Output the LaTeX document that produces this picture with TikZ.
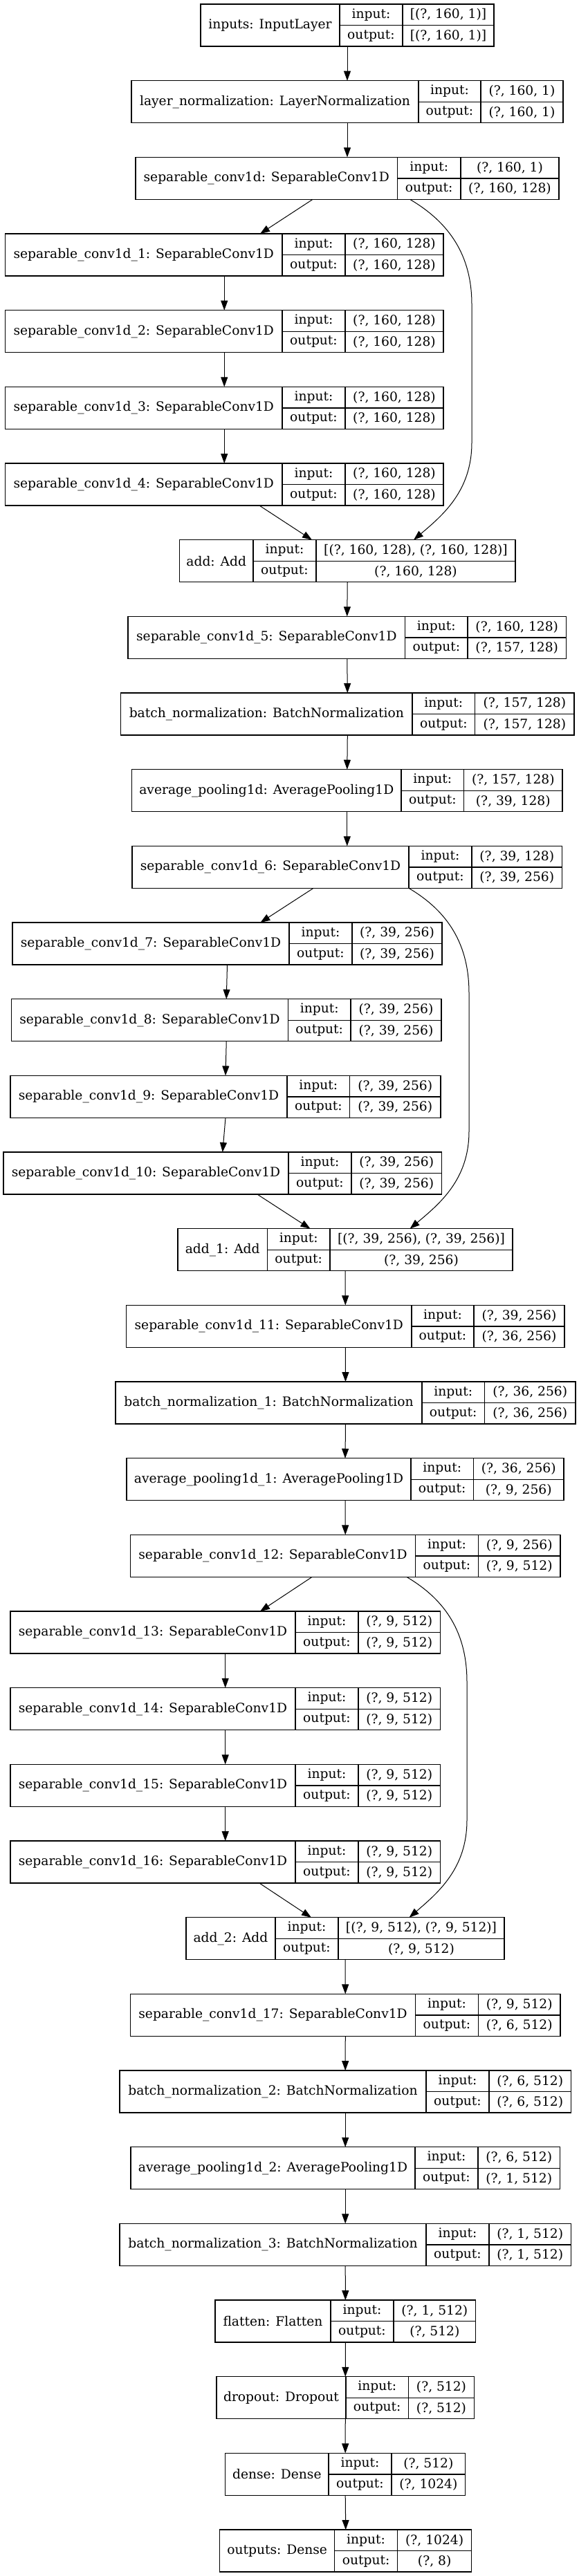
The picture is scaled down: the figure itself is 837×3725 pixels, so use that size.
\documentclass[tikz,border=0pt]{standalone}
\usepackage{fontspec}
\setmainfont{DejaVu Serif}
\usetikzlibrary{arrows.meta,fit,calc}
\tikzset{
 recbox/.style={draw, line width=1pt, inner sep=0pt, outer sep=0pt},
 cell/.style={line width=1pt},
 txt/.style={inner sep=0pt, font=\fontsize{14}{16}\selectfont},
 edge/.style={line width=0.75pt, -{Triangle[length=10.5pt,width=7.5pt]}},
}
\newcommand\recnode[9]{%
 \pgfmathsetmacro\rT{6+(#2-1)*110.67}%
 \pgfmathsetmacro\rB{\rT+61}%
 \pgfmathsetmacro\rM{\rT+30.5}%
 \pgfmathsetmacro\rI{\rT+15.25}%
 \pgfmathsetmacro\rO{\rT+45.75}%
 \node[recbox, fit={(#3,\rT) (#6,\rB)}] (#1) {};
 \draw[cell] (#4,\rT) -- (#4,\rB) (#5,\rT) -- (#5,\rB) (#4,\rM) -- (#6,\rM);
 \node[txt] (#1-l) at ({(#3+#4)/2},\rM) {#7};
 \node[txt] (#1-ik) at ({(#4+#5)/2},\rI) {input:};
 \node[txt] (#1-ok) at ({(#4+#5)/2},\rO) {output:};
 \node[txt] (#1-iv) at ({(#5+#6)/2},\rI) {#8};
 \node[txt] (#1-ov) at ({(#5+#6)/2},\rO) {#9};
}
\begin{document}
\begin{tikzpicture}[x=0.75pt,y=-0.75pt]
\useasboundingbox[fill=white] (0,0) rectangle (837,3725);
\recnode{inp}{1}{290}{491}{582}{714}{inputs: InputLayer}{[(?, 160, 1)]}{[(?, 160, 1)]}
\recnode{ln}{2}{190}{605}{695}{814}{layer\_normalization: LayerNormalization}{(?, 160, 1)}{(?, 160, 1)}
\recnode{sc0}{3}{196}{574.5}{666}{808}{separable\_conv1d: SeparableConv1D}{(?, 160, 1)}{(?, 160, 128)}
\recnode{sc1}{4}{7.5}{408}{499}{641}{separable\_conv1d\_1: SeparableConv1D}{(?, 160, 128)}{(?, 160, 128)}
\recnode{sc2}{5}{7.5}{408}{499}{641}{separable\_conv1d\_2: SeparableConv1D}{(?, 160, 128)}{(?, 160, 128)}
\recnode{sc3}{6}{7.5}{408}{499}{641}{separable\_conv1d\_3: SeparableConv1D}{(?, 160, 128)}{(?, 160, 128)}
\recnode{sc4}{7}{7.5}{408}{499}{641}{separable\_conv1d\_4: SeparableConv1D}{(?, 160, 128)}{(?, 160, 128)}
\recnode{add}{8}{259.5}{366}{457}{745}{add: Add}{[(?, 160, 128), (?, 160, 128)]}{(?, 160, 128)}
\recnode{sc5}{9}{185}{585.7}{676}{818.5}{separable\_conv1d\_5: SeparableConv1D}{(?, 160, 128)}{(?, 157, 128)}
\recnode{bn}{10}{174.6}{596}{686.6}{830}{batch\_normalization: BatchNormalization}{(?, 157, 128)}{(?, 157, 128)}
\recnode{ap}{11}{190.6}{580}{670.6}{813}{average\_pooling1d: AveragePooling1D}{(?, 157, 128)}{(?, 39, 128)}
\recnode{sc6}{12}{191}{591}{682}{812.6}{separable\_conv1d\_6: SeparableConv1D}{(?, 39, 128)}{(?, 39, 256)}
\recnode{sc7}{13}{18}{418}{509}{639}{separable\_conv1d\_7: SeparableConv1D}{(?, 39, 256)}{(?, 39, 256)}
\recnode{sc8}{14}{16.5}{416.5}{507}{638}{separable\_conv1d\_8: SeparableConv1D}{(?, 39, 256)}{(?, 39, 256)}
\recnode{sc9}{15}{15}{415}{505.6}{637}{separable\_conv1d\_9: SeparableConv1D}{(?, 39, 256)}{(?, 39, 256)}
\recnode{sc10}{16}{5}{417}{508}{638.5}{separable\_conv1d\_10: SeparableConv1D}{(?, 39, 256)}{(?, 39, 256)}
\recnode{add1}{17}{257}{386.5}{477}{741}{add\_1: Add}{[(?, 39, 256), (?, 39, 256)]}{(?, 39, 256)}
\recnode{sc11}{18}{182.6}{595}{685}{816}{separable\_conv1d\_11: SeparableConv1D}{(?, 39, 256)}{(?, 36, 256)}
\recnode{bn1}{19}{167}{610}{700.5}{832}{batch\_normalization\_1: BatchNormalization}{(?, 36, 256)}{(?, 36, 256)}
\recnode{ap1}{20}{183}{594}{684.5}{815}{average\_pooling1d\_1: AveragePooling1D}{(?, 36, 256)}{(?, 9, 256)}
\recnode{sc12}{21}{188.5}{600.6}{691.4}{810}{separable\_conv1d\_12: SeparableConv1D}{(?, 9, 256)}{(?, 9, 512)}
\recnode{sc13}{22}{15}{427}{518}{636.4}{separable\_conv1d\_13: SeparableConv1D}{(?, 9, 512)}{(?, 9, 512)}
\recnode{sc14}{23}{15}{427}{518}{636.4}{separable\_conv1d\_14: SeparableConv1D}{(?, 9, 512)}{(?, 9, 512)}
\recnode{sc15}{24}{15}{427}{518}{636.4}{separable\_conv1d\_15: SeparableConv1D}{(?, 9, 512)}{(?, 9, 512)}
\recnode{sc16}{25}{15}{427}{518}{636.4}{separable\_conv1d\_16: SeparableConv1D}{(?, 9, 512)}{(?, 9, 512)}
\recnode{add2}{26}{269}{398}{489}{729}{add\_2: Add}{[(?, 9, 512), (?, 9, 512)]}{(?, 9, 512)}
\recnode{sc17}{27}{188.5}{600.6}{691.4}{810}{separable\_conv1d\_17: SeparableConv1D}{(?, 9, 512)}{(?, 6, 512)}
\recnode{bn2}{28}{173}{616}{707}{825.4}{batch\_normalization\_2: BatchNormalization}{(?, 6, 512)}{(?, 6, 512)}
\recnode{ap2}{29}{189}{600}{691}{809.4}{average\_pooling1d\_2: AveragePooling1D}{(?, 6, 512)}{(?, 1, 512)}
\recnode{bn3}{30}{173}{616}{707}{825.4}{batch\_normalization\_3: BatchNormalization}{(?, 1, 512)}{(?, 1, 512)}
\recnode{fl}{31}{311}{478}{569}{687.7}{flatten: Flatten}{(?, 1, 512)}{(?, 512)}
\recnode{dr}{32}{313}{500}{590.5}{685.5}{dropout: Dropout}{(?, 512)}{(?, 512)}
\recnode{de}{33}{325.7}{475}{566}{672.7}{dense: Dense}{(?, 512)}{(?, 1024)}
\recnode{ou}{34}{317.7}{483.7}{574.5}{681.8}{outputs: Dense}{(?, 1024)}{(?, 8)}
% main chain
\foreach \a/\b in {inp/ln, ln/sc0, add/sc5, sc5/bn, bn/ap, ap/sc6,
  add1/sc11, sc11/bn1, bn1/ap1, ap1/sc12, add2/sc17, sc17/bn2, bn2/ap2, ap2/bn3,
  bn3/fl, fl/dr, dr/de, de/ou,
  sc1/sc2, sc2/sc3, sc3/sc4, sc7/sc8, sc8/sc9, sc9/sc10,
  sc13/sc14, sc14/sc15, sc15/sc16}
  \draw[edge] (\a.south) -- (\b.north);
% block 1
\draw[edge] ($(sc0.south)+(-50,0)$) -- ($(sc1.north)+(51.75,0)$);
\draw[edge] ($(sc4.south)+(50.75,0)$) -- ($(add.north)+(-51.25,0)$);
\draw[edge] ($(sc0.south)+(90.6,0)$) .. controls (650,322) and (682,370) .. (682,440)
  -- (682,640) .. controls (682,710) and (640,745) .. ($(add.north)+(95.75,0)$);
% block 2
\draw[edge] ($(sc6.south)+(-48.8,0)$) -- ($(sc7.north)+(47.9,0)$);
\draw[edge] ($(sc10.south)+(50.25,0)$) -- ($(add1.north)+(-50.5,0)$);
\draw[edge] ($(sc6.south)+(89.2,0)$) .. controls (648,1318) and (678,1366) .. (678,1436)
  -- (678,1636) .. controls (678,1706) and (635,1741) .. ($(add1.north)+(93.6,0)$);
% block 3
\draw[edge] ($(sc12.south)+(-48.25,0)$) -- ($(sc13.north)+(50.3,0)$);
\draw[edge] ($(sc16.south)+(49.3,0)$) -- ($(add2.north)+(-49,0)$);
\draw[edge] ($(sc12.south)+(88.75,0)$) .. controls (645,2314) and (675,2362) .. (675,2432)
  -- (675,2632) .. controls (675,2702) and (633,2737) .. ($(add2.north)+(92.6,0)$);
\end{tikzpicture}
\end{document}
